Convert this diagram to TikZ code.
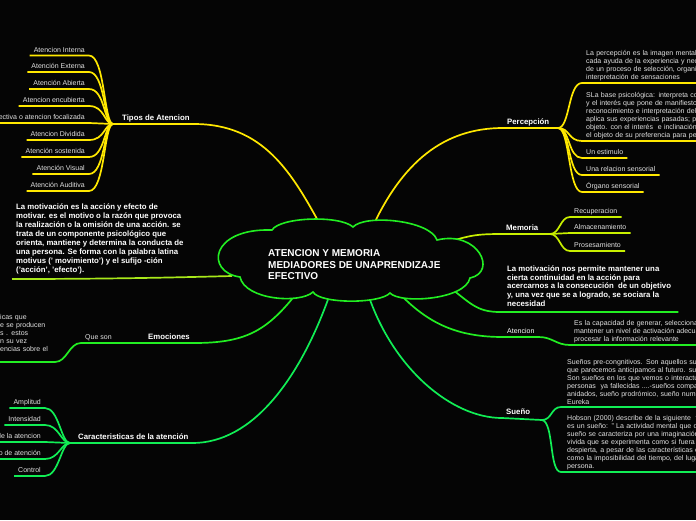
\documentclass[tikz,border=0pt]{standalone}
\usepackage{fontspec}
\setmainfont{Liberation Sans}
\usepackage{tikz}
\usetikzlibrary{positioning}
\definecolor{bgblk}{HTML}{050505}
\definecolor{leafgray}{HTML}{E2E2E2}
\definecolor{ylw}{HTML}{FFE800}
\definecolor{memlime}{HTML}{C8F000}
\definecolor{motlime}{HTML}{A8E81A}
\definecolor{grn}{HTML}{22EE22}
\definecolor{grnb}{HTML}{11EE55}
\pgfdeclarelayer{bg}
\pgfdeclarelayer{lines}
\pgfsetlayers{bg,lines,main}
\tikzset{
  leaf/.style={text=leafgray, font=\fontsize{7}{8}\selectfont,
    inner xsep=4pt, inner ysep=1.5pt, text height=5pt, text depth=1.5pt},
  topic/.style={text=white, font=\bfseries\fontsize{7.8}{9}\selectfont,
    inner xsep=4pt, inner ysep=2pt, text height=5.8pt, text depth=1.6pt},
  block/.style={text=leafgray, font=\fontsize{7}{8}\selectfont, align=left,
    text width=150pt, inner xsep=4pt, inner ysep=2pt},
  boldblock/.style={text=white, font=\bfseries\fontsize{7.8}{8.9}\selectfont,
    align=left, inner xsep=4pt, inner ysep=5pt},
  cloudline/.style={draw=grn, line width=1.6pt, fill=bgblk},
  ybr/.style={draw=ylw, line width=1.7pt},
  mbr/.style={draw=memlime, line width=1.7pt},
  lbr/.style={draw=motlime, line width=1.7pt},
  gbr/.style={draw=grn, line width=1.7pt},
  gbrb/.style={draw=grnb, line width=1.7pt}
}

\begin{document}
\begin{tikzpicture}[x=1pt, y=-1pt]
  \useasboundingbox (0,0) rectangle (696,520);
  \clip (0,0) rectangle (696,520);
  \begin{pgfonlayer}{bg}
    \fill[bgblk] (0,0) rectangle (696,520);
  \end{pgfonlayer}

  % centre: cloud outline
  \path[cloudline] (272,230) .. controls (280,217) and (340,215) .. (353,227)
    .. controls (365,214) and (430,220) .. (437,240)
    .. controls (478,230) and (498,272) .. (470,278)
    .. controls (465,300) and (400,304) .. (390,293)
    .. controls (380,304) and (320,304) .. (313,292)
    .. controls (300,304) and (245,300) .. (240,277)
    .. controls (205,272) and (210,228) .. cycle;
  \node[text=white, font=\bfseries\fontsize{10}{11.5}\selectfont, align=left,
    anchor=west, inner sep=2pt] (title) at (266,265)
    {ATENCION Y MEMORIA\\MEDIADORES DE UNAPRENDIZAJE\\EFECTIVO};
  \coordinate (cTipos) at (322,228);
  \coordinate (cPer) at (372,228);
  \coordinate (cMem) at (440,244);
  \coordinate (cMotL) at (232,276);
  \coordinate (cEmo) at (296,294);
  \coordinate (cCar) at (330,294);
  \coordinate (cSue) at (368,294);
  \coordinate (cAt) at (398,292);
  \coordinate (cMotR) at (445,284);

  % tipos de atencion
  \coordinate (hT) at (113,124);
  \node[topic, anchor=south west] (tipos) at (118,124) {Tipos de Atencion};
  \node[leaf, anchor=south east] (ai) at (89,55.5) {Atencion Interna};
  \node[leaf, anchor=south east] (ae) at (89,72) {Atención Externa};
  \node[leaf, anchor=south east] (aa) at (89,89) {Atención Abierta};
  \node[leaf, anchor=south east] (aen) at (89,106) {Atencion encubierta};
  \node[leaf, anchor=south east] (asf) at (89,123) {ectiva o atencion focalizada};
  \node[leaf, anchor=south east] (adv) at (89,140) {Atencion Dividida};
  \node[leaf, anchor=south east] (aso) at (89,157) {Atención sostenida};
  \node[leaf, anchor=south east] (avi) at (89,174) {Atención Visual};
  \node[leaf, anchor=south east] (aau) at (89,191) {Atención Auditiva};

  % motivacion (izq.)
  \node[boldblock, anchor=south west] (motL) at (12,279)
    {La motivación es la acción y efecto de\\
     motivar. es el motivo o la razón que provoca\\
     la realización o la omisión de una acción. se\\
     trata de un componente psicológico que\\
     orienta, mantiene y determina la conducta de\\
     una persona. Se forma con la palabra latina\\
     motivus (' movimiento') y el sufijo -ción\\
     ('acción', 'efecto').};

  % emociones
  \node[topic, anchor=south west] (emoc) at (144,343) {Emociones};
  \node[leaf, anchor=south west] (qson) at (81,343) {Que son};
  \node[block, text width=60pt, anchor=north west, inner xsep=0pt] (emoTxt) at (0,312)
    {icas que\\e se producen\\s . estos\\n su vez\\encias sobre el};
  \coordinate (eL) at (55,362);

  % caracteristicas
  \coordinate (cHub) at (70,443);
  \node[topic, anchor=south west] (car) at (74,443) {Caracteristicas de la atención};
  \node[leaf, anchor=south east] (amp) at (45,408) {Amplitud};
  \node[leaf, anchor=south east] (ints) at (45,425) {Intensidad};
  \node[leaf, anchor=south east] (cda) at (45,442) {de la atencion};
  \node[leaf, anchor=south east] (oda) at (45,459) {o de atención};
  \node[leaf, anchor=south east] (ctl) at (45,476) {Control};

  % percepcion
  \coordinate (pHub) at (558,128);
  \node[topic, anchor=south west] (perc) at (503,128) {Percepción};
  \node[block, anchor=south west] (p1) at (582,83)
    {La percepción es la imagen mental\\
     cada ayuda de la experiencia y nec\\
     de un proceso de selección, organiz\\
     interpretación de sensaciones};
  \node[block, anchor=south west] (p2) at (582,141)
    {SLa base psicológica: interpreta con\\
     y el interés que pone de manifiesto\\
     reconocimiento e interpretación del\\
     aplica sus experiencias pasadas; pa\\
     objeto. con el interés\ \ e inclinación e\\
     el objeto de su preferencia para per};
  \node[leaf, anchor=south west] (est) at (582,158) {Un estimulo};
  \node[leaf, anchor=south west] (rel) at (582,175) {Una relacion sensorial};
  \node[leaf, anchor=south west] (org) at (582,192) {Órgano sensorial};

  % memoria
  \coordinate (mHub) at (550,234);
  \node[topic, anchor=south west] (mem) at (502,234) {Memoria};
  \node[leaf, anchor=south west] (rec) at (570,217) {Recuperacion};
  \node[leaf, anchor=south west] (alm) at (570,233) {Almacenamiento};
  \node[leaf, anchor=south west] (pro) at (570,251) {Prosesamiento};

  % motivacion (der.)
  \node[boldblock, anchor=south west, inner xsep=7pt] (motR) at (500,312)
    {La motivación nos permite mantener una\\
     cierta continuidad en la acción para\\
     acercarnos a la consecución\ \ de un objetivo\\
     y, una vez que se a logrado, se sociara la\\
     necesidad};

  % atencion
  \node[leaf, text=white, anchor=south west] (atR) at (503,337) {Atencion};
  \node[block, anchor=south west] (atTxt) at (570,345)
    {Es la capacidad de generar, seleccionar\\
     mantener un nivel de activación adecua\\
     procesar la información relevante};

  % sueno
  \coordinate (sHub) at (542,420);
  \node[topic, anchor=south west] (sue) at (502,418) {Sueño};
  \node[block, anchor=south west, inner xsep=6pt] (s1) at (561,407)
    {Sueños pre-congnitivos. Son aquellos sue\\
     que parecemos anticipamos al futuro. sue\\
     Son sueños en los que vemos o interactu\\
     personas\ \ ya fallecidas ....-sueños compar\\
     anidados, sueño prodrómico, sueño numi\\
     Eureka};
  \node[block, anchor=south west, inner xsep=6pt] (s2) at (561,472)
    {Hobson (2000) describe de la siguiente\ \ fo\\
     es un sueño: " La actividad mental que oc\\
     sueño se caracteriza por una imaginación\\
     vivida que se experimenta como si fuera l\\
     despierta, a pesar de las características o\\
     como la imposibilidad del tiempo, del luga\\
     persona.};

  \begin{pgfonlayer}{lines}
    \clip (0,0) rectangle (696,520);
    % tipos
    \draw[ybr] (cTipos) .. controls +(-30,-55) and +(70,0) .. (tipos.south east) -- (hT);
    \draw[ybr] (hT) .. controls +(-9,0) and +(16,0) .. (ai.south east) -- (ai.south west);
    \draw[ybr] (hT) .. controls +(-9,0) and +(16,0) .. (ae.south east) -- (ae.south west);
    \draw[ybr] (hT) .. controls +(-9,0) and +(16,0) .. (aa.south east) -- (aa.south west);
    \draw[ybr] (hT) .. controls +(-9,0) and +(16,0) .. (aen.south east) -- (aen.south west);
    \draw[ybr] (hT) -- (asf.south east) -- (asf.south west);
    \draw[ybr] (hT) .. controls +(-9,0) and +(16,0) .. (adv.south east) -- (adv.south west);
    \draw[ybr] (hT) .. controls +(-9,0) and +(16,0) .. (aso.south east) -- (aso.south west);
    \draw[ybr] (hT) .. controls +(-9,0) and +(16,0) .. (avi.south east) -- (avi.south west);
    \draw[ybr] (hT) .. controls +(-9,0) and +(16,0) .. (aau.south east) -- (aau.south west);
    % motivacion izq.
    \draw[lbr] (motL.south west) .. controls +(110,0) and +(-40,1) .. (cMotL);
    % emociones
    \draw[gbr] (cEmo) .. controls +(-30,38) and +(50,0) .. (emoc.south east)
      -- (qson.south west) .. controls +(-12,0) and +(12,0) .. (eL) -- (emoTxt.west |- eL);
    % caracteristicas
    \draw[gbrb] (cCar) .. controls +(-30,85) and +(60,0) .. (car.south east) -- (cHub);
    \draw[gbrb] (cHub) .. controls +(-9,0) and +(14,0) .. (amp.south east) -- (amp.south west);
    \draw[gbrb] (cHub) .. controls +(-9,0) and +(14,0) .. (ints.south east) -- (ints.south west);
    \draw[gbrb] (cHub) -- (cda.south east) -- (cda.south west);
    \draw[gbrb] (cHub) .. controls +(-9,0) and +(14,0) .. (oda.south east) -- (oda.south west);
    \draw[gbrb] (cHub) .. controls +(-9,0) and +(14,0) .. (ctl.south east) -- (ctl.south west);
    % percepcion
    \draw[ybr] (cPer) .. controls +(30,-65) and +(-60,0) .. (perc.south west) -- (pHub);
    \draw[ybr] (pHub) .. controls +(12,0) and +(-14,0) .. (p1.south west) -- (p1.south east);
    \draw[ybr] (pHub) .. controls +(12,0) and +(-14,0) .. (p2.south west) -- (p2.south east);
    \draw[ybr] (pHub) .. controls +(12,0) and +(-14,0) .. (est.south west) -- (est.south east);
    \draw[ybr] (pHub) .. controls +(12,0) and +(-14,0) .. (rel.south west) -- (rel.south east);
    \draw[ybr] (pHub) .. controls +(12,0) and +(-14,0) .. (org.south west) -- (org.south east);
    % memoria
    \draw[mbr] (cMem) .. controls +(30,-8) and +(-30,0) .. (mem.south west) -- (mHub);
    \draw[mbr] (mHub) .. controls +(10,0) and +(-10,0) .. (rec.south west) -- (rec.south east);
    \draw[mbr] (mHub) -- (alm.south west) -- (alm.south east);
    \draw[mbr] (mHub) .. controls +(10,0) and +(-10,0) .. (pro.south west) -- (pro.south east);
    % motivacion der.
    \draw[gbr] (cMotR) .. controls +(25,18) and +(-25,0) .. (motR.south west) -- (motR.south east);
    % atencion
    \draw[gbr] (cAt) .. controls +(30,32) and +(-45,0) .. (atR.south west) -- (atR.south east)
      .. controls +(14,0) and +(-14,0) .. (atTxt.south west) -- (atTxt.south east);
    % sueno
    \draw[gbrb] (cSue) .. controls +(25,75) and +(-50,0) .. (sue.south west) -- (sHub);
    \draw[gbrb] (sHub) .. controls +(10,0) and +(-10,0) .. (s1.south west) -- (s1.south east);
    \draw[gbrb] (sHub) .. controls +(12,2) and +(-12,0) .. (s2.south west) -- (s2.south east);
  \end{pgfonlayer}
\end{tikzpicture}
\end{document}
